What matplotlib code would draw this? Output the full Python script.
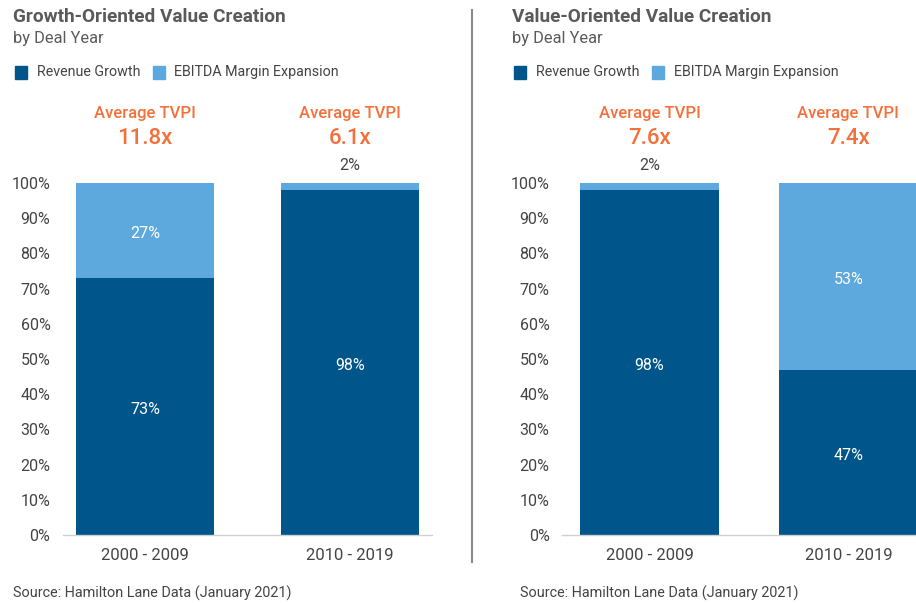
import matplotlib
matplotlib.use("Agg")
import matplotlib.pyplot as plt
import matplotlib.transforms as mtransforms

plt.rcParams['font.family'] = ['Roboto', 'DejaVu Sans']

# ---- data ----
categories = ["2000 - 2009", "2010 - 2019"]
growth_revenue = [73, 98]
growth_ebitda = [27, 2]
growth_tvpi = ["11.8x", "6.1x"]
value_revenue = [98, 47]
value_ebitda = [2, 53]
value_tvpi = ["7.6x", "7.4x"]
yticks = [0, 10, 20, 30, 40, 50, 60, 70, 80, 90, 100]
series_names = ["Revenue Growth", "EBITDA Margin Expansion"]
titles = ["Growth-Oriented Value Creation", "Value-Oriented Value Creation"]
subtitle = "by Deal Year"
source = "Source: Hamilton Lane Data (January 2021)"

DARK = "#00558A"
LIGHT = "#5DA8DC"
ORANGE = "#F4703A"
TITLE_C = "#5a5a5a"
TEXT_C = "#444444"

W, H = 916, 603
fig = plt.figure(figsize=(W / 100, H / 100), dpi=100)


def fx(px):
    return px / W


def fy(py):
    return 1 - py / H


def make_panel(x0_px, x1_px, xlim, width, rev, ebit, tvpi, title, text_x, src_x):
    ax = fig.add_axes([fx(x0_px), fy(535), fx(x1_px - x0_px), (535 - 183) / H])
    xs = list(range(len(categories)))
    ax.bar(xs, rev, width=width, color=DARK, linewidth=0, zorder=2)
    ax.bar(xs, ebit, width=width, bottom=rev, color=LIGHT, linewidth=0, zorder=2)
    ax.set_xlim(*xlim)
    ax.set_ylim(0, 100)
    ax.set_yticks(yticks)
    ax.set_yticklabels([f"{v}%" for v in yticks])
    ax.set_xticks(xs)
    ax.set_xticklabels(categories)
    for s in ["top", "right", "left"]:
        ax.spines[s].set_visible(False)
    ax.spines["bottom"].set_color("#d0d0d0")
    ax.spines["bottom"].set_linewidth(1.0)
    ax.tick_params(axis="y", length=0, pad=9, labelsize=11.5, labelcolor=TEXT_C)
    ax.tick_params(axis="x", length=0, pad=9, labelsize=12, labelcolor=TEXT_C)
    ax.set_facecolor("none")

    trans = mtransforms.blended_transform_factory(ax.transData, ax.transAxes)
    for i in xs:
        # segment labels
        for bottom, val in ((0, rev[i]), (rev[i], ebit[i])):
            if val >= 5:
                ax.text(i, bottom + val / 2 - 0.8, f"{val}%", ha="center", va="center",
                        color="white", fontsize=11.5, zorder=3)
            else:
                ax.text(i, bottom + val + 2.8, f"{val}%", ha="center", va="bottom",
                        color=TEXT_C, fontsize=11.5, zorder=3)
        ax.text(i, 1.197, "Average TVPI", transform=trans, ha="center", va="center",
                color=ORANGE, fontsize=12, fontweight="medium")
        ax.text(i, 1.125, tvpi[i], transform=trans, ha="center", va="center",
                color=ORANGE, fontsize=16, fontweight="medium")

    # titles
    fig.text(fx(text_x), fy(17), title, ha="left", va="center", fontsize=13.7,
             fontweight="bold", color=TITLE_C)
    fig.text(fx(text_x), fy(39), subtitle, ha="left", va="center", fontsize=11.8,
             color=TITLE_C)
    # legend
    lx = text_x + 2
    for name, col in zip(series_names, [DARK, LIGHT]):
        fig.patches.append(plt.Rectangle((fx(lx), fy(79)), fx(12), 13 / H,
                                         transform=fig.transFigure, color=col))
        t = fig.text(fx(lx + 22), fy(72), name, ha="left", va="center",
                     fontsize=10.3, color=TEXT_C)
        fig.canvas.draw()
        bb = t.get_window_extent()
        lx = bb.x1 + 12
    fig.text(fx(src_x), fy(593), source, ha="left", va="center", fontsize=10.4,
             color=TEXT_C)
    return ax


make_panel(63, 432, (-0.4, 1.4), 0.678, growth_revenue, growth_ebitda, growth_tvpi,
           titles[0], 13, 13)
make_panel(562, 928, (-0.44, 1.4), 0.6985, value_revenue, value_ebitda, value_tvpi,
           titles[1], 512, 520)

# divider
fig.add_artist(plt.Line2D([fx(472), fx(472)], [fy(10), fy(562)],
                          transform=fig.transFigure, color="#8a8a8a", linewidth=1.5))

fig.savefig("out.png", dpi=100, facecolor="white")
